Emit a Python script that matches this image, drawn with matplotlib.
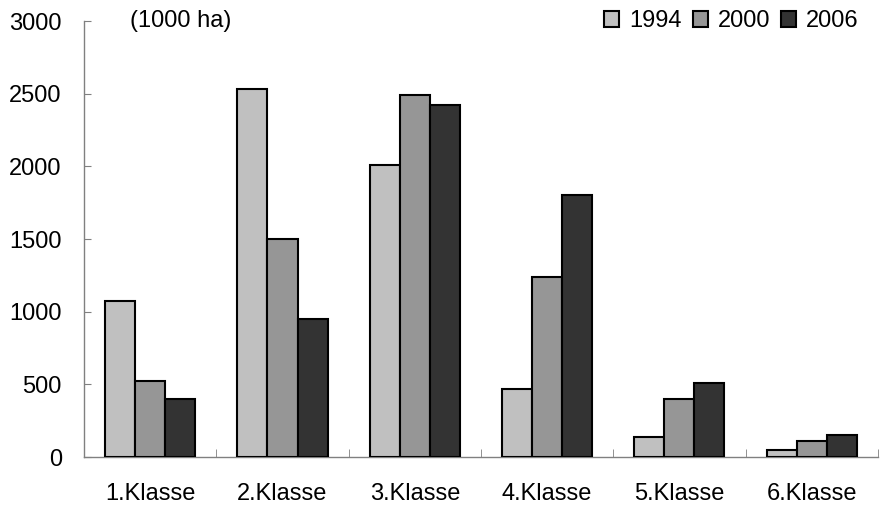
import matplotlib
matplotlib.use("Agg")
import matplotlib.pyplot as plt
import numpy as np

plt.rcParams['font.family'] = ['Liberation Sans', 'DejaVu Sans']

klassen = ['1.Klasse', '2.Klasse', '3.Klasse', '4.Klasse', '5.Klasse', '6.Klasse']
jahre = ['1994', '2000', '2006']
werte1994 = [1075, 2535, 2010, 470, 140, 45]
werte2000 = [525, 1500, 2490, 1240, 400, 110]
werte2006 = [400, 950, 2425, 1805, 510, 150]
farben = ['#c0c0c0', '#969696', '#333333']

fs = 17

fig = plt.figure(figsize=(8.9, 5.05), dpi=100)
ax = fig.add_axes([0.0944, 0.095, 0.892, 0.863])

x = np.arange(len(klassen))
w = 0.227
for i, (werte, jahr) in enumerate(zip([werte1994, werte2000, werte2006], jahre)):
    ax.bar(x + (i - 1) * w, werte, w, color=farben[i], edgecolor='black',
           linewidth=1.5, label=jahr, zorder=3)

ax.set_xlim(-0.5, len(klassen) - 0.5)
ax.set_ylim(0, 3000)
ax.set_yticks(range(0, 3001, 500))
ax.set_xticks(x)
ax.set_xticklabels(klassen)
ax.set_xticks(np.arange(-0.5, len(klassen)), minor=True)

for s in ['top', 'right']:
    ax.spines[s].set_visible(False)
for s in ['left', 'bottom']:
    ax.spines[s].set_color('#808080')
    ax.spines[s].set_linewidth(1)

ax.tick_params(axis='y', direction='in', length=5, color='#808080', pad=16, labelsize=fs)
ax.tick_params(axis='x', which='major', direction='in', length=4.5, color='#808080', pad=19, labelsize=fs)
ax.tick_params(axis='x', which='minor', direction='in', length=5.5, color='#808080')

ax.text(0.058, 1.0, '(1000 ha)', transform=ax.transAxes, fontsize=fs, va='center', ha='left')

ax.legend(loc='center right', bbox_to_anchor=(0.991, 1.0), ncol=3, frameon=False,
          fontsize=fs, handlelength=0.64, handleheight=0.64, handletextpad=0.42,
          columnspacing=0.47, borderpad=0)

fig.savefig('out.png', dpi=100)
